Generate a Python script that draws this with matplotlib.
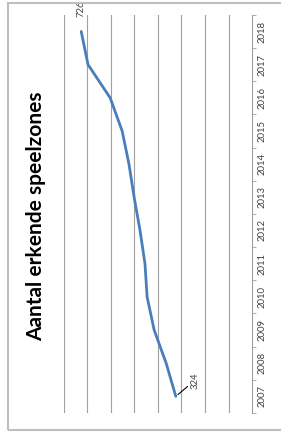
import matplotlib.pyplot as plt
from matplotlib.patches import Rectangle

years = ['2007', '2008', '2009', '2010', '2011', '2012',
         '2013', '2014', '2015', '2016', '2017', '2018']
speelzones = [324, 365, 416, 446, 455, 476, 501, 523, 552, 603, 697, 726]
title = 'Aantal erkende speelzones'

fig = plt.figure(figsize=(2.81, 4.37), dpi=100)

# chart is rotated a quarter turn: years run upward, values grow to the left
ax = fig.add_axes([0.227, 0.055, 0.670, 0.911])
pos = list(range(len(years)))
ax.plot(speelzones, pos, color='#4A7EBB', lw=2.0, solid_capstyle='round')

ax.set_xlim(800, 0)
ax.set_ylim(-0.5, len(years) - 0.5)

# vertical gridlines every 100, no value labels
ax.set_xticks(range(100, 801, 100))
ax.tick_params(axis='x', length=0, labelbottom=False)
ax.grid(axis='x', color='#A0A0A0', lw=0.8)
ax.set_axisbelow(True)

# category axis on the right side
ax.yaxis.tick_right()
ax.set_yticks(pos)
ax.set_yticklabels(years, rotation=90, va='center', fontsize=6.8,
                   color='#404040', family='Lato')
ax.set_yticks([p - 0.5 for p in pos] + [len(years) - 0.5], minor=True)
ax.tick_params(axis='y', which='major', length=0, pad=4)
ax.tick_params(axis='y', which='minor', length=3, color='#A0A0A0',
               direction='out', right=True, left=False)
for s in ['left', 'top', 'bottom']:
    ax.spines[s].set_visible(False)
ax.spines['right'].set_color('#A0A0A0')
ax.spines['right'].set_linewidth(0.8)

# data labels for first and last point
ax.annotate(str(speelzones[-1]), (speelzones[-1], pos[-1]),
            xytext=(0, 23), textcoords='offset pixels', rotation=90,
            ha='center', va='center', fontsize=6.8, color='#404040', family='Lato')
ax.annotate(str(speelzones[0]), (speelzones[0], pos[0]),
            xytext=(19, 16), textcoords='offset pixels', rotation=90,
            ha='center', va='center', fontsize=6.8, color='#404040', family='Lato',
            arrowprops=dict(arrowstyle='-', color='black', lw=0.8,
                            shrinkA=0, shrinkB=2))

fig.text(36 / 281, 1 - 216 / 437, title, rotation=90, ha='center', va='center',
         fontsize=15, fontweight='bold', family='Lato')

# chart area border
fig.patches.append(Rectangle((0.029, 0.016), 1.0, 0.978, transform=fig.transFigure,
                             fill=False, edgecolor='#BFBFBF', lw=1.5))

fig.savefig('out.png', dpi=100)
